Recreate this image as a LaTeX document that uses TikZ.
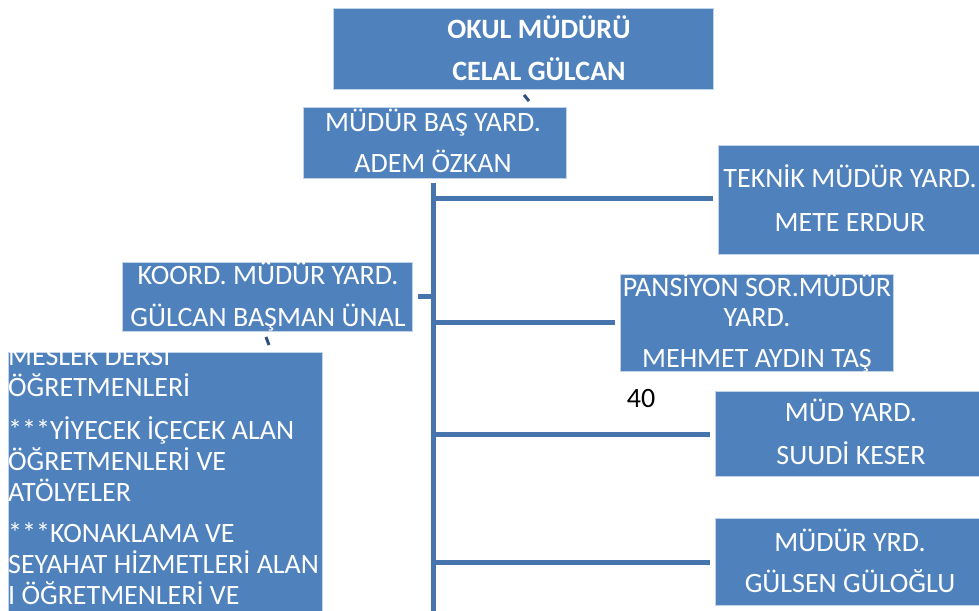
\documentclass[tikz,border=0pt]{standalone}
\usepackage{fontspec}
\setmainfont{Carlito}
\definecolor{boxblue}{HTML}{4F81BD}
\definecolor{lineblue}{HTML}{4674AD}
\definecolor{tickblue}{HTML}{2F4F7F}
\tikzset{
  orgbox/.style={fill=boxblue, draw=boxblue!35!white, line width=0.8pt, inner sep=0pt},
  boxtext/.style={text=white, align=center, inner sep=0pt, font=\fontsize{28}{30}\selectfont},
  conn/.style={draw=lineblue, line width=5pt},
  tick/.style={draw=tickblue, line width=3pt},
}
\begin{document}
\begin{tikzpicture}[x=1pt,y=-1pt]
\useasboundingbox (0,0) rectangle (979,610);
\clip (0,0) rectangle (979,610);
% connectors first
\coordinate (trunktop) at (433,183);
\coordinate (trunkbot) at (433,615);
\coordinate (j1) at (433,198);
\coordinate (j2) at (433,322);
\coordinate (j3) at (433,434);
\coordinate (j4) at (433,562);
\coordinate (k1) at (418,296);
\draw[conn] (trunktop) -- (trunkbot);
\coordinate (e1) at (713,198);
\coordinate (e2) at (615,322);
\coordinate (e3) at (710,434);
\coordinate (e4) at (710,562);
\draw[conn] (j1) -- (e1);
\draw[conn] (j2) -- (e2);
\draw[conn] (j3) -- (e3);
\draw[conn] (j4) -- (e4);
\draw[conn] (k1) -- (trunktop |- k1);
% boxes
\node[orgbox, minimum width=380pt, minimum height=81pt] (okul) at (523,48.5) {};
\node[orgbox, minimum width=263pt, minimum height=71pt] (basyard) at (434.5,142.5) {};
\node[orgbox, minimum width=270pt, minimum height=109pt] (teknik) at (853,199.5) {};
\node[orgbox, minimum width=290pt, minimum height=69pt] (koord) at (267,296.5) {};
\node[orgbox, minimum width=273pt, minimum height=97pt] (pansiyon) at (756.5,322.5) {};
\node[orgbox, minimum width=270pt, minimum height=85pt] (mudyard) at (850,433.5) {};
\node[orgbox, minimum width=270pt, minimum height=87pt] (gulsen) at (850,561.5) {};
\node[orgbox, minimum width=314pt, minimum height=270pt] (meslek) at (165,487) {};
% ticks
\coordinate (t1a) at (524,95);
\coordinate (t1b) at (529,101);
\draw[tick] (t1a) -- (t1b);
\coordinate (t2a) at (266,337);
\coordinate (t2b) at (269,345);
\draw[tick] (t2a) -- (t2b);
% texts
\node[boxtext, font=\bfseries\fontsize{28}{42}\selectfont] (okul-t) at (539,48) {OKUL MÜDÜRÜ\\CELAL GÜLCAN};
\node[boxtext, font=\fontsize{28}{41}\selectfont] (basyard-t) at (433,141) {MÜDÜR BAŞ YARD.\\ADEM ÖZKAN};
\node[boxtext, font=\fontsize{28}{44}\selectfont] (teknik-t) at (850,198) {TEKNİK MÜDÜR YARD.\\METE ERDUR};
\node[boxtext, font=\fontsize{28}{42}\selectfont] (koord-t) at (268,297) {KOORD. MÜDÜR YARD.\\GÜLCAN BAŞMAN ÜNAL};
\node[boxtext, font=\fontsize{28}{30}\selectfont] (pansiyon-t) at (757,323) {PANSİYON SOR.MÜDÜR\\YARD.\\[11pt]MEHMET AYDIN TAŞ};
\node[boxtext, font=\fontsize{28}{43}\selectfont] (mudyard-t) at (851,432) {MÜD YARD.\\SUUDİ KESER};
\node[boxtext, font=\fontsize{28}{41}\selectfont] (gulsen-t) at (850,561) {MÜDÜR YRD.\\GÜLSEN GÜLOĞLU};
\node[font=\fontsize{28}{30}\selectfont, text=black, inner sep=0pt] (forty) at (641,399) {40};
\begin{scope}
\clip (meslek.north west) rectangle (meslek.south east);
\node[boxtext, align=left, anchor=north west, font=\fontsize{28}{31}\selectfont] (meslek-t) at (8,342) {MESLEK DERSİ\\ÖĞRETMENLERİ\\[12pt]***YİYECEK İÇECEK ALAN\\ÖĞRETMENLERİ VE\\ATÖLYELER\\[10pt]***KONAKLAMA VE\\SEYAHAT HİZMETLERİ ALAN\\I ÖĞRETMENLERİ VE};
\end{scope}
\end{tikzpicture}
\end{document}
